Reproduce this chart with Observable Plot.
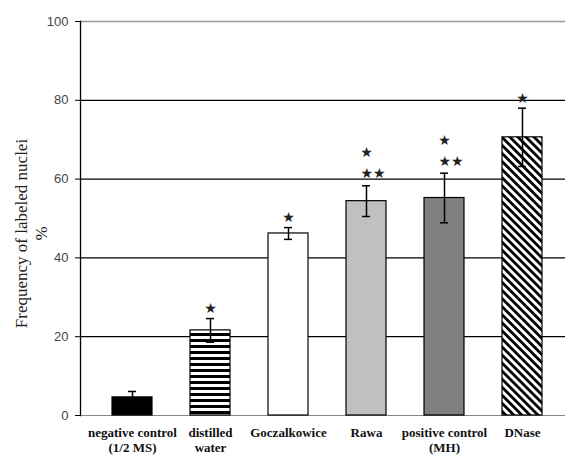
<!DOCTYPE html>
<html>
<head>
<meta charset="utf-8">
<script src="https://cdn.jsdelivr.net/npm/d3@7"></script>
<script src="https://cdn.jsdelivr.net/npm/@observablehq/plot@0.6"></script>
<style>
  html, body { margin: 0; padding: 0; background: #fff; }
  #chart { width: 565px; height: 459px; }
</style>
</head>
<body>
<div id="chart"></div>
<script>
// ---- data ----
const categories = ["negative control\n(1/2 MS)", "distilled\nwater", "Goczalkowice", "Rawa", "positive control\n(MH)", "DNase"];
const means = [4.6, 21.6, 46.2, 54.4, 55.2, 70.6];
const errors = [1.5, 3.0, 1.5, 3.9, 6.3, 7.4];
const sigNear = ["", "★", "★", "★★", "★★", "★"];
const sigFar = ["", "", "", "★", "★", ""];
const yTicks = [0, 20, 40, 60, 80, 100];
const yTitle = "Frequency of labeled nuclei\n%";

// ---- styles ----
const fillFor = {
  "negative control\n(1/2 MS)": "#000000",
  "distilled\nwater": "url(#hstripes)",
  "Goczalkowice": "#ffffff",
  "Rawa": "#c0c0c0",
  "positive control\n(MH)": "#808080",
  "DNase": "url(#dstripes)"
};

const data = categories.map((c, i) => ({
  cat: c, mean: means[i], err: errors[i], near: sigNear[i], far: sigFar[i],
  lo: means[i] - errors[i], hi: means[i] + errors[i], fill: fillFor[c]
}));

const serif = "'Liberation Serif', 'Times New Roman', serif";
const sans = "'Liberation Sans', Arial, sans-serif";
const starFont = "'DejaVu Sans', sans-serif";

const plot = Plot.plot({
  width: 565,
  height: 459,
  marginLeft: 80,
  marginRight: 0,
  marginTop: 21,
  marginBottom: 44,
  style: { background: "#fff", overflow: "visible" },
  x: { domain: categories, paddingInner: 0.49, paddingOuter: 0.245, insetLeft: 10, insetRight: 1.6, label: null },
  y: { domain: [0, 100], label: null },
  color: { type: "identity" },
  marks: [
    Plot.ruleY(yTicks.filter(t => t > 0 && t < 100), { stroke: "#000", strokeWidth: 1.3 }),
    Plot.ruleY([100], { stroke: "#999", strokeWidth: 1.3 }),
    Plot.ruleY([0], { stroke: "#888", strokeWidth: 1 }),
    Plot.frame({ anchor: "left", stroke: "#000", strokeWidth: 1.3 }),
    Plot.axisY({ ticks: yTicks, tickSize: 5, tickPadding: 7, fontSize: 13, fontFamily: sans, fill: "#444", stroke: "#000", label: null }),
    Plot.axisX({ tickSize: 0, tickPadding: 11, fontSize: 13, fontFamily: serif, fontWeight: "bold", lineHeight: 1.15, fill: "#111", label: null }),
    Plot.barY(data, { x: "cat", y: "mean", fill: "fill", stroke: "#000", strokeWidth: 1.2 }),
    Plot.ruleX(data, { x: "cat", y1: "lo", y2: "hi", stroke: "#000", strokeWidth: 1.5 }),
    Plot.tickY(data, { x: "cat", y: "hi", stroke: "#000", strokeWidth: 1.5, insetLeft: 16, insetRight: 16 }),
    Plot.tickY(data, { x: "cat", y: "lo", stroke: "#000", strokeWidth: 1.5, insetLeft: 16, insetRight: 16 }),
    Plot.text(data, { filter: d => d.near.length === 1, x: "cat", y: "hi", text: "near", dy: -10, fontSize: 14, fontFamily: starFont, fill: "#222" }),
    Plot.text(data, { filter: d => d.near.length === 2, x: "cat", y: "hi", text: "near", dy: -12, dx: -6, textAnchor: "start", fontSize: 14, fontFamily: starFont, fill: "#222" }),
    Plot.text(data, { filter: d => d.far.length > 0, x: "cat", y: "hi", text: "far", dy: -33, fontSize: 14, fontFamily: starFont, fill: "#222" }),
    Plot.text([yTitle], { frameAnchor: "left", textAnchor: "middle", text: d => d, rotate: -90, dx: -50, dy: 15, fontSize: 17, fontFamily: serif, lineHeight: 1.2, fill: "#222" })
  ]
});

d3.select(plot).insert("defs", ":first-child").html(`
  <pattern id="hstripes" patternUnits="userSpaceOnUse" width="6" height="6">
    <rect width="6" height="6" fill="#fff"/>
    <rect y="3" width="6" height="3" fill="#000"/>
  </pattern>
  <pattern id="dstripes" patternUnits="userSpaceOnUse" width="5.7" height="5.7" patternTransform="rotate(-45)">
    <rect width="5.7" height="5.7" fill="#fff"/>
    <rect width="2.8" height="5.7" fill="#000"/>
  </pattern>
`);

document.getElementById("chart").appendChild(plot);
</script>
</body>
</html>
